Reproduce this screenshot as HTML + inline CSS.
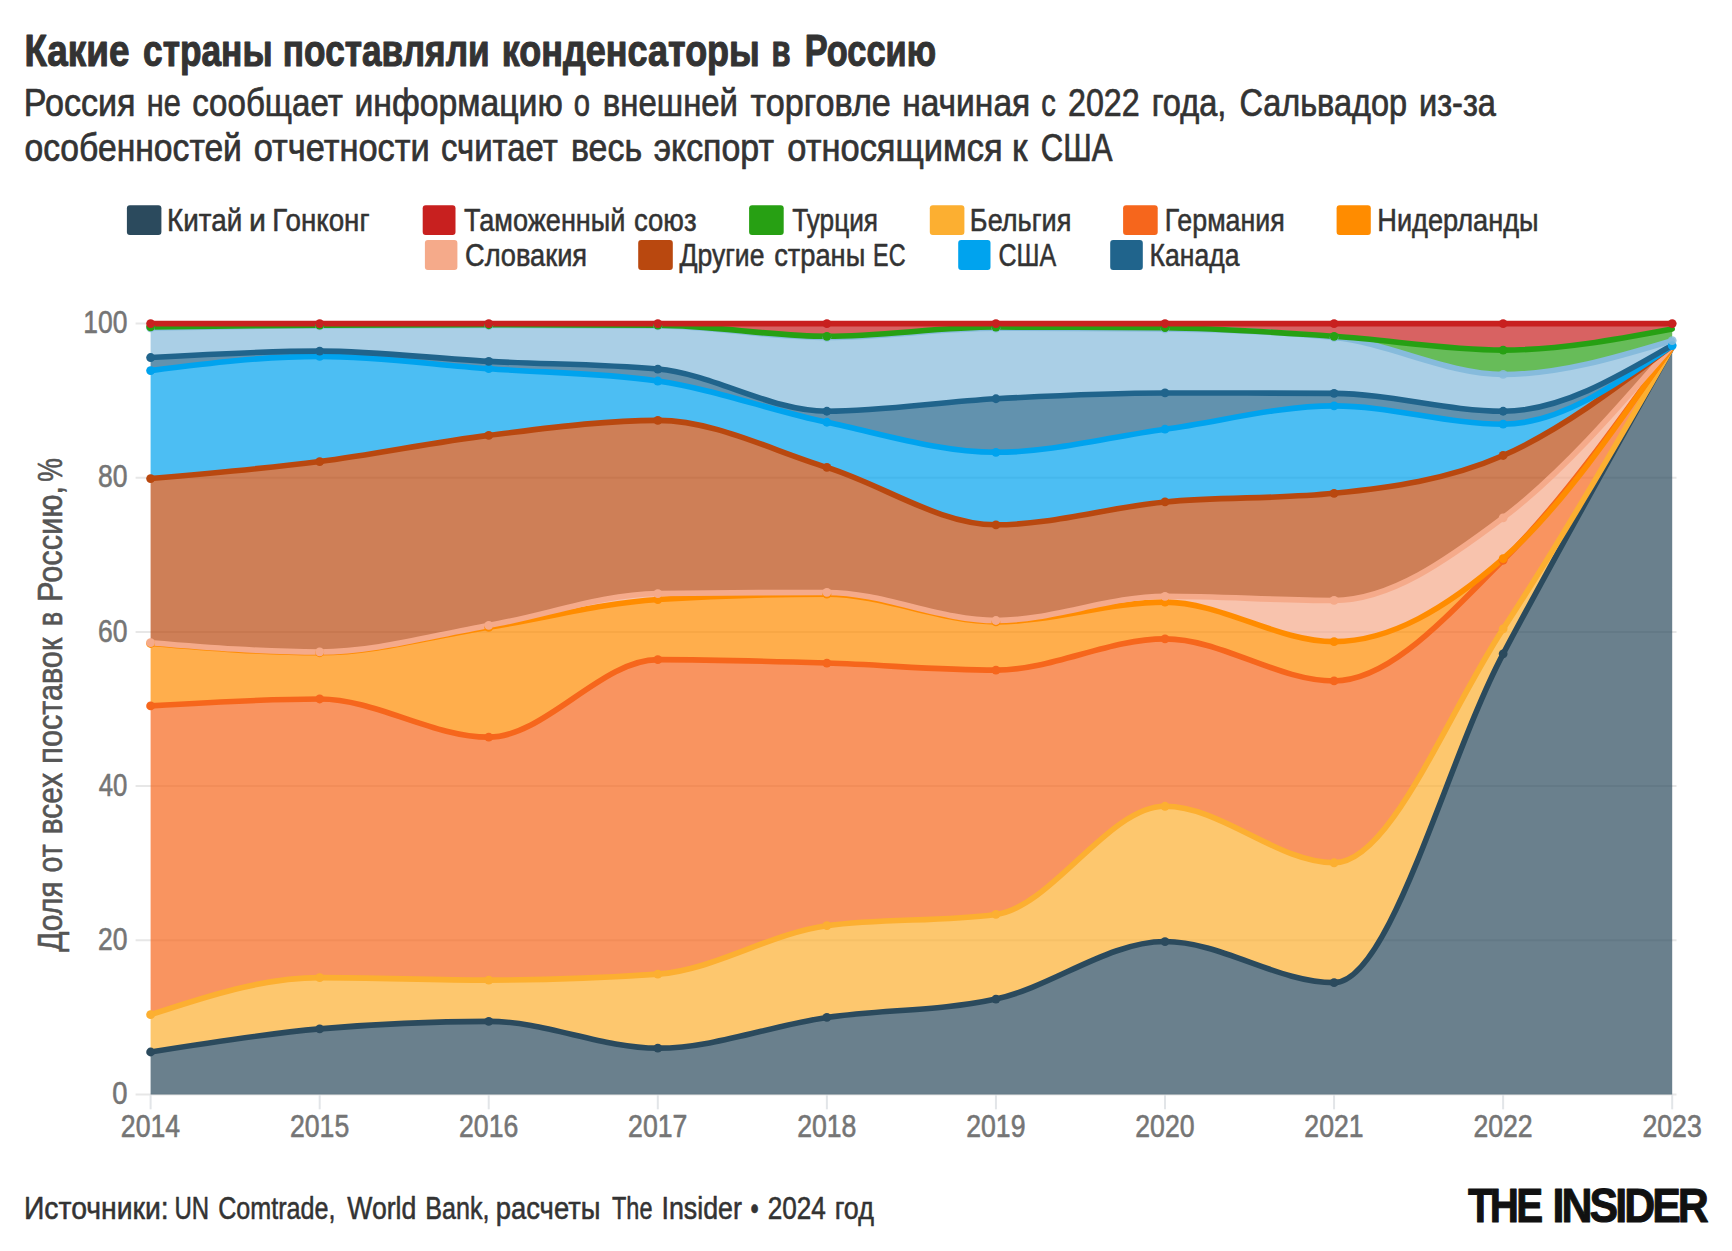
<!DOCTYPE html>
<html lang="ru"><head><meta charset="utf-8"><title>Какие страны поставляли конденсаторы в Россию</title>
<style>
html,body{margin:0;padding:0;background:#fff}
body{width:1732px;height:1251px;position:relative;overflow:hidden;font-family:"Liberation Sans",sans-serif}
svg text{font-family:"Liberation Sans",sans-serif;white-space:pre}
</style></head><body>
<svg width="1732" height="1251" viewBox="0 0 1732 1251" style="position:absolute;left:0;top:0">
<line x1="135.6" x2="1676.5" y1="1094.4" y2="1094.4" stroke="#e7e7e7" stroke-width="2"/>
<line x1="135.6" x2="1676.5" y1="940.24" y2="940.24" stroke="#e7e7e7" stroke-width="2"/>
<line x1="135.6" x2="1676.5" y1="786.08" y2="786.08" stroke="#e7e7e7" stroke-width="2"/>
<line x1="135.6" x2="1676.5" y1="631.92" y2="631.92" stroke="#e7e7e7" stroke-width="2"/>
<line x1="135.6" x2="1676.5" y1="477.76" y2="477.76" stroke="#e7e7e7" stroke-width="2"/>
<line x1="135.6" x2="1676.5" y1="323.6" y2="323.6" stroke="#e7e7e7" stroke-width="2"/>
<line x1="150.6" x2="150.6" y1="1094.4" y2="1109.3" stroke="#e2e5e8" stroke-width="2"/>
<line x1="319.67" x2="319.67" y1="1094.4" y2="1109.3" stroke="#e2e5e8" stroke-width="2"/>
<line x1="488.73" x2="488.73" y1="1094.4" y2="1109.3" stroke="#e2e5e8" stroke-width="2"/>
<line x1="657.8" x2="657.8" y1="1094.4" y2="1109.3" stroke="#e2e5e8" stroke-width="2"/>
<line x1="826.87" x2="826.87" y1="1094.4" y2="1109.3" stroke="#e2e5e8" stroke-width="2"/>
<line x1="995.93" x2="995.93" y1="1094.4" y2="1109.3" stroke="#e2e5e8" stroke-width="2"/>
<line x1="1165" x2="1165" y1="1094.4" y2="1109.3" stroke="#e2e5e8" stroke-width="2"/>
<line x1="1334.07" x2="1334.07" y1="1094.4" y2="1109.3" stroke="#e2e5e8" stroke-width="2"/>
<line x1="1503.13" x2="1503.13" y1="1094.4" y2="1109.3" stroke="#e2e5e8" stroke-width="2"/>
<line x1="1672.2" x2="1672.2" y1="1094.4" y2="1109.3" stroke="#e2e5e8" stroke-width="2"/>
<path d="M150.6,1052.01C206.96,1042.96,263.31,1033.92,319.67,1028.88C376.02,1023.85,432.38,1021.33,488.73,1021.33C545.09,1021.33,601.44,1048.15,657.8,1048.15C714.16,1048.15,770.51,1025.66,826.87,1017.47C883.22,1009.29,939.58,1011.33,995.93,999.05C1052.29,986.77,1108.64,941.55,1165,941.55C1221.36,941.55,1277.71,982.63,1334.07,982.63C1390.42,982.63,1446.78,759.67,1503.13,653.81C1559.49,547.95,1615.84,447.72,1672.2,347.49L1672.2,1094.4C1615.84,1094.4,1559.49,1094.4,1503.13,1094.4C1446.78,1094.4,1390.42,1094.4,1334.07,1094.4C1277.71,1094.4,1221.36,1094.4,1165,1094.4C1108.64,1094.4,1052.29,1094.4,995.93,1094.4C939.58,1094.4,883.22,1094.4,826.87,1094.4C770.51,1094.4,714.16,1094.4,657.8,1094.4C601.44,1094.4,545.09,1094.4,488.73,1094.4C432.38,1094.4,376.02,1094.4,319.67,1094.4C263.31,1094.4,206.96,1094.4,150.6,1094.4Z" fill="#2b4a5d" fill-opacity="0.7"/>
<path d="M150.6,1014.7C206.96,996.16,263.31,977.62,319.67,977.62C376.02,977.62,432.38,980.09,488.73,980.09C545.09,980.09,601.44,978.11,657.8,974.16C714.16,970.2,770.51,933.17,826.87,925.67C883.22,918.17,939.58,921.92,995.93,914.42C1052.29,906.92,1108.64,806.27,1165,806.27C1221.36,806.27,1277.71,862.77,1334.07,862.77C1390.42,862.77,1446.78,714.78,1503.13,628.84C1559.49,542.89,1615.84,445,1672.2,347.11L1672.2,347.49C1615.84,447.72,1559.49,547.95,1503.13,653.81C1446.78,759.67,1390.42,982.63,1334.07,982.63C1277.71,982.63,1221.36,941.55,1165,941.55C1108.64,941.55,1052.29,986.77,995.93,999.05C939.58,1011.33,883.22,1009.29,826.87,1017.47C770.51,1025.66,714.16,1048.15,657.8,1048.15C601.44,1048.15,545.09,1021.33,488.73,1021.33C432.38,1021.33,376.02,1023.85,319.67,1028.88C263.31,1033.92,206.96,1042.96,150.6,1052.01Z" fill="#fcaf31" fill-opacity="0.7"/>
<path d="M150.6,705.92C206.96,702.45,263.31,698.98,319.67,698.98C376.02,698.98,432.38,737.13,488.73,737.13C545.09,737.13,601.44,659.67,657.8,659.67C714.16,659.67,770.51,661.31,826.87,663.06C883.22,664.81,939.58,670.15,995.93,670.15C1052.29,670.15,1108.64,638.86,1165,638.86C1221.36,638.86,1277.71,680.94,1334.07,680.94C1390.42,680.94,1446.78,615.94,1503.13,560.24C1559.49,504.53,1615.84,425.63,1672.2,346.72L1672.2,347.11C1615.84,445,1559.49,542.89,1503.13,628.84C1446.78,714.78,1390.42,862.77,1334.07,862.77C1277.71,862.77,1221.36,806.27,1165,806.27C1108.64,806.27,1052.29,906.92,995.93,914.42C939.58,921.92,883.22,918.17,826.87,925.67C770.51,933.17,714.16,970.2,657.8,974.16C601.44,978.11,545.09,980.09,488.73,980.09C432.38,980.09,376.02,977.62,319.67,977.62C263.31,977.62,206.96,996.16,150.6,1014.7Z" fill="#f6661c" fill-opacity="0.7"/>
<path d="M150.6,643.48C206.96,648.11,263.31,652.73,319.67,652.73C376.02,652.73,432.38,636.16,488.73,627.3C545.09,618.43,601.44,603.14,657.8,599.55C714.16,595.95,770.51,594.15,826.87,594.15C883.22,594.15,939.58,621.9,995.93,621.9C1052.29,621.9,1108.64,602.17,1165,602.17C1221.36,602.17,1277.71,641.63,1334.07,641.63C1390.42,641.63,1446.78,607.91,1503.13,558.69C1559.49,509.48,1615.84,427.91,1672.2,346.34L1672.2,346.72C1615.84,425.63,1559.49,504.53,1503.13,560.24C1446.78,615.94,1390.42,680.94,1334.07,680.94C1277.71,680.94,1221.36,638.86,1165,638.86C1108.64,638.86,1052.29,670.15,995.93,670.15C939.58,670.15,883.22,664.81,826.87,663.06C770.51,661.31,714.16,659.67,657.8,659.67C601.44,659.67,545.09,737.13,488.73,737.13C432.38,737.13,376.02,698.98,319.67,698.98C263.31,698.98,206.96,702.45,150.6,705.92Z" fill="#ff8c00" fill-opacity="0.7"/>
<path d="M150.6,642.71C206.96,647.34,263.31,651.96,319.67,651.96C376.02,651.96,432.38,635.18,488.73,625.45C545.09,615.71,601.44,594.25,657.8,593.53C714.16,592.81,770.51,592.46,826.87,592.46C883.22,592.46,939.58,620.51,995.93,620.51C1052.29,620.51,1108.64,596.31,1165,596.31C1221.36,596.31,1277.71,600.47,1334.07,600.47C1390.42,600.47,1446.78,560.26,1503.13,517.84C1559.49,475.42,1615.84,410.69,1672.2,345.95L1672.2,346.34C1615.84,427.91,1559.49,509.48,1503.13,558.69C1446.78,607.91,1390.42,641.63,1334.07,641.63C1277.71,641.63,1221.36,602.17,1165,602.17C1108.64,602.17,1052.29,621.9,995.93,621.9C939.58,621.9,883.22,594.15,826.87,594.15C770.51,594.15,714.16,595.95,657.8,599.55C601.44,603.14,545.09,618.43,488.73,627.3C432.38,636.16,376.02,652.73,319.67,652.73C263.31,652.73,206.96,648.11,150.6,643.48Z" fill="#f5aa8a" fill-opacity="0.7"/>
<path d="M150.6,478.53C206.96,473.65,263.31,468.77,319.67,461.57C376.02,454.38,432.38,442.24,488.73,435.37C545.09,428.49,601.44,420.34,657.8,420.34C714.16,420.34,770.51,449.95,826.87,467.35C883.22,484.76,939.58,524.78,995.93,524.78C1052.29,524.78,1108.64,507.2,1165,501.96C1221.36,496.72,1277.71,499.09,1334.07,493.33C1390.42,487.57,1446.78,480.07,1503.13,455.48C1559.49,430.9,1615.84,388.35,1672.2,345.8L1672.2,345.95C1615.84,410.69,1559.49,475.42,1503.13,517.84C1446.78,560.26,1390.42,600.47,1334.07,600.47C1277.71,600.47,1221.36,596.31,1165,596.31C1108.64,596.31,1052.29,620.51,995.93,620.51C939.58,620.51,883.22,592.46,826.87,592.46C770.51,592.46,714.16,592.81,657.8,593.53C601.44,594.25,545.09,615.71,488.73,625.45C432.38,635.18,376.02,651.96,319.67,651.96C263.31,651.96,206.96,647.34,150.6,642.71Z" fill="#b9480f" fill-opacity="0.7"/>
<path d="M150.6,370.62C206.96,363.49,263.31,356.36,319.67,356.36C376.02,356.36,432.38,364.58,488.73,368.69C545.09,372.8,601.44,372.8,657.8,381.02C714.16,389.25,770.51,410.38,826.87,422.26C883.22,434.15,939.58,452.32,995.93,452.32C1052.29,452.32,1108.64,436.95,1165,429.2C1221.36,421.45,1277.71,405.84,1334.07,405.84C1390.42,405.84,1446.78,424.19,1503.13,424.19C1559.49,424.19,1615.84,384.88,1672.2,345.57L1672.2,345.8C1615.84,388.35,1559.49,430.9,1503.13,455.48C1446.78,480.07,1390.42,487.57,1334.07,493.33C1277.71,499.09,1221.36,496.72,1165,501.96C1108.64,507.2,1052.29,524.78,995.93,524.78C939.58,524.78,883.22,484.76,826.87,467.35C770.51,449.95,714.16,420.34,657.8,420.34C601.44,420.34,545.09,428.49,488.73,435.37C432.38,442.24,376.02,454.38,319.67,461.57C263.31,468.77,206.96,473.65,150.6,478.53Z" fill="#00a3ee" fill-opacity="0.7"/>
<path d="M150.6,357.52C206.96,354.32,263.31,351.12,319.67,351.12C376.02,351.12,432.38,358.38,488.73,361.37C545.09,364.36,601.44,363.94,657.8,369.08C714.16,374.22,770.51,411.24,826.87,411.24C883.22,411.24,939.58,401.8,995.93,398.75C1052.29,395.71,1108.64,392.97,1165,392.97C1221.36,392.97,1277.71,393.1,1334.07,393.36C1390.42,393.61,1446.78,411.24,1503.13,411.24C1559.49,411.24,1615.84,378.21,1672.2,345.18L1672.2,345.57C1615.84,384.88,1559.49,424.19,1503.13,424.19C1446.78,424.19,1390.42,405.84,1334.07,405.84C1277.71,405.84,1221.36,421.45,1165,429.2C1108.64,436.95,1052.29,452.32,995.93,452.32C939.58,452.32,883.22,434.15,826.87,422.26C770.51,410.38,714.16,389.25,657.8,381.02C601.44,372.8,545.09,372.8,488.73,368.69C432.38,364.58,376.02,356.36,319.67,356.36C263.31,356.36,206.96,363.49,150.6,370.62Z" fill="#20648c" fill-opacity="0.7"/>
<path d="M150.6,327.84C206.96,327,263.31,326.17,319.67,325.91C376.02,325.66,432.38,325.53,488.73,325.53C545.09,325.53,601.44,325.66,657.8,325.91C714.16,326.17,770.51,337.47,826.87,337.47C883.22,337.47,939.58,328.22,995.93,328.22C1052.29,328.22,1108.64,328.43,1165,328.84C1221.36,329.25,1277.71,331.72,1334.07,337.47C1390.42,343.23,1446.78,374.47,1503.13,374.47C1559.49,374.47,1615.84,357.52,1672.2,340.56L1672.2,345.18C1615.84,378.21,1559.49,411.24,1503.13,411.24C1446.78,411.24,1390.42,393.61,1334.07,393.36C1277.71,393.1,1221.36,392.97,1165,392.97C1108.64,392.97,1052.29,395.71,995.93,398.75C939.58,401.8,883.22,411.24,826.87,411.24C770.51,411.24,714.16,374.22,657.8,369.08C601.44,363.94,545.09,364.36,488.73,361.37C432.38,358.38,376.02,351.12,319.67,351.12C263.31,351.12,206.96,354.32,150.6,357.52Z" fill="#86bbdc" fill-opacity="0.7"/>
<path d="M150.6,326.84C206.96,326.12,263.31,325.4,319.67,325.14C376.02,324.88,432.38,324.76,488.73,324.76C545.09,324.76,601.44,324.88,657.8,325.14C714.16,325.4,770.51,336.32,826.87,336.32C883.22,336.32,939.58,327.07,995.93,327.07C1052.29,327.07,1108.64,327.27,1165,327.69C1221.36,328.1,1277.71,332.58,1334.07,336.32C1390.42,340.06,1446.78,350.12,1503.13,350.12C1559.49,350.12,1615.84,339.56,1672.2,329L1672.2,340.56C1615.84,357.52,1559.49,374.47,1503.13,374.47C1446.78,374.47,1390.42,343.23,1334.07,337.47C1277.71,331.72,1221.36,329.25,1165,328.84C1108.64,328.43,1052.29,328.22,995.93,328.22C939.58,328.22,883.22,337.47,826.87,337.47C770.51,337.47,714.16,326.17,657.8,325.91C601.44,325.66,545.09,325.53,488.73,325.53C432.38,325.53,376.02,325.66,319.67,325.91C263.31,326.17,206.96,327,150.6,327.84Z" fill="#27a013" fill-opacity="0.7"/>
<path d="M150.6,323.6C206.96,323.6,263.31,323.6,319.67,323.6C376.02,323.6,432.38,323.6,488.73,323.6C545.09,323.6,601.44,323.6,657.8,323.6C714.16,323.6,770.51,323.6,826.87,323.6C883.22,323.6,939.58,323.6,995.93,323.6C1052.29,323.6,1108.64,323.6,1165,323.6C1221.36,323.6,1277.71,323.6,1334.07,323.6C1390.42,323.6,1446.78,323.6,1503.13,323.6C1559.49,323.6,1615.84,323.6,1672.2,323.6L1672.2,329C1615.84,339.56,1559.49,350.12,1503.13,350.12C1446.78,350.12,1390.42,340.06,1334.07,336.32C1277.71,332.58,1221.36,328.1,1165,327.69C1108.64,327.27,1052.29,327.07,995.93,327.07C939.58,327.07,883.22,336.32,826.87,336.32C770.51,336.32,714.16,325.4,657.8,325.14C601.44,324.88,545.09,324.76,488.73,324.76C432.38,324.76,376.02,324.88,319.67,325.14C263.31,325.4,206.96,326.12,150.6,326.84Z" fill="#c8201f" fill-opacity="0.7"/>
<path d="M150.6,1052.01C206.96,1042.96,263.31,1033.92,319.67,1028.88C376.02,1023.85,432.38,1021.33,488.73,1021.33C545.09,1021.33,601.44,1048.15,657.8,1048.15C714.16,1048.15,770.51,1025.66,826.87,1017.47C883.22,1009.29,939.58,1011.33,995.93,999.05C1052.29,986.77,1108.64,941.55,1165,941.55C1221.36,941.55,1277.71,982.63,1334.07,982.63C1390.42,982.63,1446.78,759.67,1503.13,653.81C1559.49,547.95,1615.84,447.72,1672.2,347.49" fill="none" stroke="#2b4a5d" stroke-width="5.6" stroke-linejoin="round" stroke-linecap="round"/>
<path d="M150.6,1014.7C206.96,996.16,263.31,977.62,319.67,977.62C376.02,977.62,432.38,980.09,488.73,980.09C545.09,980.09,601.44,978.11,657.8,974.16C714.16,970.2,770.51,933.17,826.87,925.67C883.22,918.17,939.58,921.92,995.93,914.42C1052.29,906.92,1108.64,806.27,1165,806.27C1221.36,806.27,1277.71,862.77,1334.07,862.77C1390.42,862.77,1446.78,714.78,1503.13,628.84C1559.49,542.89,1615.84,445,1672.2,347.11" fill="none" stroke="#fcaf31" stroke-width="5.6" stroke-linejoin="round" stroke-linecap="round"/>
<path d="M150.6,705.92C206.96,702.45,263.31,698.98,319.67,698.98C376.02,698.98,432.38,737.13,488.73,737.13C545.09,737.13,601.44,659.67,657.8,659.67C714.16,659.67,770.51,661.31,826.87,663.06C883.22,664.81,939.58,670.15,995.93,670.15C1052.29,670.15,1108.64,638.86,1165,638.86C1221.36,638.86,1277.71,680.94,1334.07,680.94C1390.42,680.94,1446.78,615.94,1503.13,560.24C1559.49,504.53,1615.84,425.63,1672.2,346.72" fill="none" stroke="#f6661c" stroke-width="5.6" stroke-linejoin="round" stroke-linecap="round"/>
<path d="M150.6,643.48C206.96,648.11,263.31,652.73,319.67,652.73C376.02,652.73,432.38,636.16,488.73,627.3C545.09,618.43,601.44,603.14,657.8,599.55C714.16,595.95,770.51,594.15,826.87,594.15C883.22,594.15,939.58,621.9,995.93,621.9C1052.29,621.9,1108.64,602.17,1165,602.17C1221.36,602.17,1277.71,641.63,1334.07,641.63C1390.42,641.63,1446.78,607.91,1503.13,558.69C1559.49,509.48,1615.84,427.91,1672.2,346.34" fill="none" stroke="#ff8c00" stroke-width="5.6" stroke-linejoin="round" stroke-linecap="round"/>
<path d="M150.6,642.71C206.96,647.34,263.31,651.96,319.67,651.96C376.02,651.96,432.38,635.18,488.73,625.45C545.09,615.71,601.44,594.25,657.8,593.53C714.16,592.81,770.51,592.46,826.87,592.46C883.22,592.46,939.58,620.51,995.93,620.51C1052.29,620.51,1108.64,596.31,1165,596.31C1221.36,596.31,1277.71,600.47,1334.07,600.47C1390.42,600.47,1446.78,560.26,1503.13,517.84C1559.49,475.42,1615.84,410.69,1672.2,345.95" fill="none" stroke="#f5aa8a" stroke-width="5.6" stroke-linejoin="round" stroke-linecap="round"/>
<path d="M150.6,478.53C206.96,473.65,263.31,468.77,319.67,461.57C376.02,454.38,432.38,442.24,488.73,435.37C545.09,428.49,601.44,420.34,657.8,420.34C714.16,420.34,770.51,449.95,826.87,467.35C883.22,484.76,939.58,524.78,995.93,524.78C1052.29,524.78,1108.64,507.2,1165,501.96C1221.36,496.72,1277.71,499.09,1334.07,493.33C1390.42,487.57,1446.78,480.07,1503.13,455.48C1559.49,430.9,1615.84,388.35,1672.2,345.8" fill="none" stroke="#b9480f" stroke-width="5.6" stroke-linejoin="round" stroke-linecap="round"/>
<path d="M150.6,370.62C206.96,363.49,263.31,356.36,319.67,356.36C376.02,356.36,432.38,364.58,488.73,368.69C545.09,372.8,601.44,372.8,657.8,381.02C714.16,389.25,770.51,410.38,826.87,422.26C883.22,434.15,939.58,452.32,995.93,452.32C1052.29,452.32,1108.64,436.95,1165,429.2C1221.36,421.45,1277.71,405.84,1334.07,405.84C1390.42,405.84,1446.78,424.19,1503.13,424.19C1559.49,424.19,1615.84,384.88,1672.2,345.57" fill="none" stroke="#00a3ee" stroke-width="5.6" stroke-linejoin="round" stroke-linecap="round"/>
<path d="M150.6,357.52C206.96,354.32,263.31,351.12,319.67,351.12C376.02,351.12,432.38,358.38,488.73,361.37C545.09,364.36,601.44,363.94,657.8,369.08C714.16,374.22,770.51,411.24,826.87,411.24C883.22,411.24,939.58,401.8,995.93,398.75C1052.29,395.71,1108.64,392.97,1165,392.97C1221.36,392.97,1277.71,393.1,1334.07,393.36C1390.42,393.61,1446.78,411.24,1503.13,411.24C1559.49,411.24,1615.84,378.21,1672.2,345.18" fill="none" stroke="#20648c" stroke-width="5.6" stroke-linejoin="round" stroke-linecap="round"/>
<path d="M150.6,327.84C206.96,327,263.31,326.17,319.67,325.91C376.02,325.66,432.38,325.53,488.73,325.53C545.09,325.53,601.44,325.66,657.8,325.91C714.16,326.17,770.51,337.47,826.87,337.47C883.22,337.47,939.58,328.22,995.93,328.22C1052.29,328.22,1108.64,328.43,1165,328.84C1221.36,329.25,1277.71,331.72,1334.07,337.47C1390.42,343.23,1446.78,374.47,1503.13,374.47C1559.49,374.47,1615.84,357.52,1672.2,340.56" fill="none" stroke="#86bbdc" stroke-width="5.6" stroke-linejoin="round" stroke-linecap="round"/>
<path d="M150.6,326.84C206.96,326.12,263.31,325.4,319.67,325.14C376.02,324.88,432.38,324.76,488.73,324.76C545.09,324.76,601.44,324.88,657.8,325.14C714.16,325.4,770.51,336.32,826.87,336.32C883.22,336.32,939.58,327.07,995.93,327.07C1052.29,327.07,1108.64,327.27,1165,327.69C1221.36,328.1,1277.71,332.58,1334.07,336.32C1390.42,340.06,1446.78,350.12,1503.13,350.12C1559.49,350.12,1615.84,339.56,1672.2,329" fill="none" stroke="#27a013" stroke-width="5.6" stroke-linejoin="round" stroke-linecap="round"/>
<path d="M150.6,323.6C206.96,323.6,263.31,323.6,319.67,323.6C376.02,323.6,432.38,323.6,488.73,323.6C545.09,323.6,601.44,323.6,657.8,323.6C714.16,323.6,770.51,323.6,826.87,323.6C883.22,323.6,939.58,323.6,995.93,323.6C1052.29,323.6,1108.64,323.6,1165,323.6C1221.36,323.6,1277.71,323.6,1334.07,323.6C1390.42,323.6,1446.78,323.6,1503.13,323.6C1559.49,323.6,1615.84,323.6,1672.2,323.6" fill="none" stroke="#c8201f" stroke-width="5.6" stroke-linejoin="round" stroke-linecap="round"/>
<g fill="#2b4a5d"><circle cx="150.6" cy="1052.01" r="4.4"/><circle cx="319.67" cy="1028.88" r="4.4"/><circle cx="488.73" cy="1021.33" r="4.4"/><circle cx="657.8" cy="1048.15" r="4.4"/><circle cx="826.87" cy="1017.47" r="4.4"/><circle cx="995.93" cy="999.05" r="4.4"/><circle cx="1165" cy="941.55" r="4.4"/><circle cx="1334.07" cy="982.63" r="4.4"/><circle cx="1503.13" cy="653.81" r="4.4"/></g>
<g fill="#fcaf31"><circle cx="150.6" cy="1014.7" r="4.4"/><circle cx="319.67" cy="977.62" r="4.4"/><circle cx="488.73" cy="980.09" r="4.4"/><circle cx="657.8" cy="974.16" r="4.4"/><circle cx="826.87" cy="925.67" r="4.4"/><circle cx="995.93" cy="914.42" r="4.4"/><circle cx="1165" cy="806.27" r="4.4"/><circle cx="1334.07" cy="862.77" r="4.4"/><circle cx="1503.13" cy="628.84" r="4.4"/></g>
<g fill="#f6661c"><circle cx="150.6" cy="705.92" r="4.4"/><circle cx="319.67" cy="698.98" r="4.4"/><circle cx="488.73" cy="737.13" r="4.4"/><circle cx="657.8" cy="659.67" r="4.4"/><circle cx="826.87" cy="663.06" r="4.4"/><circle cx="995.93" cy="670.15" r="4.4"/><circle cx="1165" cy="638.86" r="4.4"/><circle cx="1334.07" cy="680.94" r="4.4"/><circle cx="1503.13" cy="560.24" r="4.4"/></g>
<g fill="#ff8c00"><circle cx="150.6" cy="643.48" r="4.4"/><circle cx="319.67" cy="652.73" r="4.4"/><circle cx="488.73" cy="627.3" r="4.4"/><circle cx="657.8" cy="599.55" r="4.4"/><circle cx="826.87" cy="594.15" r="4.4"/><circle cx="995.93" cy="621.9" r="4.4"/><circle cx="1165" cy="602.17" r="4.4"/><circle cx="1334.07" cy="641.63" r="4.4"/><circle cx="1503.13" cy="558.69" r="4.4"/></g>
<g fill="#f5aa8a"><circle cx="150.6" cy="642.71" r="4.4"/><circle cx="319.67" cy="651.96" r="4.4"/><circle cx="488.73" cy="625.45" r="4.4"/><circle cx="657.8" cy="593.53" r="4.4"/><circle cx="826.87" cy="592.46" r="4.4"/><circle cx="995.93" cy="620.51" r="4.4"/><circle cx="1165" cy="596.31" r="4.4"/><circle cx="1334.07" cy="600.47" r="4.4"/><circle cx="1503.13" cy="517.84" r="4.4"/></g>
<g fill="#b9480f"><circle cx="150.6" cy="478.53" r="4.4"/><circle cx="319.67" cy="461.57" r="4.4"/><circle cx="488.73" cy="435.37" r="4.4"/><circle cx="657.8" cy="420.34" r="4.4"/><circle cx="826.87" cy="467.35" r="4.4"/><circle cx="995.93" cy="524.78" r="4.4"/><circle cx="1165" cy="501.96" r="4.4"/><circle cx="1334.07" cy="493.33" r="4.4"/><circle cx="1503.13" cy="455.48" r="4.4"/></g>
<g fill="#00a3ee"><circle cx="150.6" cy="370.62" r="4.4"/><circle cx="319.67" cy="356.36" r="4.4"/><circle cx="488.73" cy="368.69" r="4.4"/><circle cx="657.8" cy="381.02" r="4.4"/><circle cx="826.87" cy="422.26" r="4.4"/><circle cx="995.93" cy="452.32" r="4.4"/><circle cx="1165" cy="429.2" r="4.4"/><circle cx="1334.07" cy="405.84" r="4.4"/><circle cx="1503.13" cy="424.19" r="4.4"/><circle cx="1672.2" cy="345.57" r="4.4"/></g>
<g fill="#20648c"><circle cx="150.6" cy="357.52" r="4.4"/><circle cx="319.67" cy="351.12" r="4.4"/><circle cx="488.73" cy="361.37" r="4.4"/><circle cx="657.8" cy="369.08" r="4.4"/><circle cx="826.87" cy="411.24" r="4.4"/><circle cx="995.93" cy="398.75" r="4.4"/><circle cx="1165" cy="392.97" r="4.4"/><circle cx="1334.07" cy="393.36" r="4.4"/><circle cx="1503.13" cy="411.24" r="4.4"/></g>
<g fill="#86bbdc" fill-opacity="0.85"><circle cx="150.6" cy="327.84" r="4.4"/><circle cx="319.67" cy="325.91" r="4.4"/><circle cx="488.73" cy="325.53" r="4.4"/><circle cx="657.8" cy="325.91" r="4.4"/><circle cx="826.87" cy="337.47" r="4.4"/><circle cx="995.93" cy="328.22" r="4.4"/><circle cx="1165" cy="328.84" r="4.4"/><circle cx="1334.07" cy="337.47" r="4.4"/><circle cx="1503.13" cy="374.47" r="4.4"/><circle cx="1672.2" cy="340.56" r="4.4"/></g>
<g fill="#27a013"><circle cx="150.6" cy="326.84" r="4.4"/><circle cx="319.67" cy="325.14" r="4.4"/><circle cx="488.73" cy="324.76" r="4.4"/><circle cx="657.8" cy="325.14" r="4.4"/><circle cx="826.87" cy="336.32" r="4.4"/><circle cx="995.93" cy="327.07" r="4.4"/><circle cx="1165" cy="327.69" r="4.4"/><circle cx="1334.07" cy="336.32" r="4.4"/><circle cx="1503.13" cy="350.12" r="4.4"/></g>
<g fill="#c8201f"><circle cx="150.6" cy="323.6" r="4.4"/><circle cx="319.67" cy="323.6" r="4.4"/><circle cx="488.73" cy="323.6" r="4.4"/><circle cx="657.8" cy="323.6" r="4.4"/><circle cx="826.87" cy="323.6" r="4.4"/><circle cx="995.93" cy="323.6" r="4.4"/><circle cx="1165" cy="323.6" r="4.4"/><circle cx="1334.07" cy="323.6" r="4.4"/><circle cx="1503.13" cy="323.6" r="4.4"/><circle cx="1672.2" cy="323.6" r="4.4"/></g>
<rect x="126.9" y="205.2" width="34.5" height="29.9" rx="3" fill="#2b4a5d"/>
<rect x="422.7" y="205.2" width="32.8" height="29.9" rx="3" fill="#c8201f"/>
<rect x="749.1" y="205.2" width="34.6" height="29.9" rx="3" fill="#27a013"/>
<rect x="929.8" y="205.2" width="34.6" height="29.9" rx="3" fill="#fcaf31"/>
<rect x="1123.1" y="205.2" width="34.6" height="29.9" rx="3" fill="#f6661c"/>
<rect x="1336.6" y="205.2" width="34.2" height="29.9" rx="3" fill="#ff8c00"/>
<rect x="424.9" y="240" width="32.5" height="29.9" rx="3" fill="#f5aa8a"/>
<rect x="638.2" y="240" width="34.6" height="29.9" rx="3" fill="#b9480f"/>
<rect x="958.2" y="240" width="32.3" height="29.9" rx="3" fill="#00a3ee"/>
<rect x="1110.2" y="240" width="32.6" height="29.9" rx="3" fill="#20648c"/>
<text x="24.39" y="65.6" font-size="44.4" fill="#333" font-weight="bold" stroke="#333" stroke-width="1.1" stroke-linejoin="round" textLength="105.13" lengthAdjust="spacingAndGlyphs">Какие</text>
<text x="143.06" y="65.6" font-size="44.4" fill="#333" font-weight="bold" stroke="#333" stroke-width="1.1" stroke-linejoin="round" textLength="129.51" lengthAdjust="spacingAndGlyphs">страны</text>
<text x="282.87" y="65.6" font-size="44.4" fill="#333" font-weight="bold" stroke="#333" stroke-width="1.1" stroke-linejoin="round" textLength="206.79" lengthAdjust="spacingAndGlyphs">поставляли</text>
<text x="501.72" y="65.6" font-size="44.4" fill="#333" font-weight="bold" stroke="#333" stroke-width="1.1" stroke-linejoin="round" textLength="258.09" lengthAdjust="spacingAndGlyphs">конденсаторы</text>
<text x="771.41" y="65.6" font-size="44.4" fill="#333" font-weight="bold" stroke="#333" stroke-width="1.1" stroke-linejoin="round" textLength="19.09" lengthAdjust="spacingAndGlyphs">в</text>
<text x="804.7" y="65.6" font-size="44.4" fill="#333" font-weight="bold" stroke="#333" stroke-width="1.1" stroke-linejoin="round" textLength="131.35" lengthAdjust="spacingAndGlyphs">Россию</text>
<text x="23.76" y="115.8" font-size="38" fill="#333" stroke="#333" stroke-width="0.7" stroke-linejoin="round" textLength="111.8" lengthAdjust="spacingAndGlyphs">Россия</text>
<text x="146.73" y="115.8" font-size="38" fill="#333" stroke="#333" stroke-width="0.7" stroke-linejoin="round" textLength="34.03" lengthAdjust="spacingAndGlyphs">не</text>
<text x="192.18" y="115.8" font-size="38" fill="#333" stroke="#333" stroke-width="0.7" stroke-linejoin="round" textLength="150.72" lengthAdjust="spacingAndGlyphs">сообщает</text>
<text x="354.47" y="115.8" font-size="38" fill="#333" stroke="#333" stroke-width="0.7" stroke-linejoin="round" textLength="208.31" lengthAdjust="spacingAndGlyphs">информацию</text>
<text x="573.78" y="115.8" font-size="38" fill="#333" stroke="#333" stroke-width="0.7" stroke-linejoin="round" textLength="16.24" lengthAdjust="spacingAndGlyphs">о</text>
<text x="602.82" y="115.8" font-size="38" fill="#333" stroke="#333" stroke-width="0.7" stroke-linejoin="round" textLength="135.16" lengthAdjust="spacingAndGlyphs">внешней</text>
<text x="750.55" y="115.8" font-size="38" fill="#333" stroke="#333" stroke-width="0.7" stroke-linejoin="round" textLength="140.32" lengthAdjust="spacingAndGlyphs">торговле</text>
<text x="902.18" y="115.8" font-size="38" fill="#333" stroke="#333" stroke-width="0.7" stroke-linejoin="round" textLength="128.04" lengthAdjust="spacingAndGlyphs">начиная</text>
<text x="1041.14" y="115.8" font-size="38" fill="#333" stroke="#333" stroke-width="0.7" stroke-linejoin="round" textLength="14.51" lengthAdjust="spacingAndGlyphs">с</text>
<text x="1068" y="115.8" font-size="38" fill="#333" stroke="#333" stroke-width="0.7" stroke-linejoin="round" textLength="71.71" lengthAdjust="spacingAndGlyphs">2022</text>
<text x="1151.64" y="115.8" font-size="38" fill="#333" stroke="#333" stroke-width="0.7" stroke-linejoin="round" textLength="74.71" lengthAdjust="spacingAndGlyphs">года,</text>
<text x="1239.4" y="115.8" font-size="38" fill="#333" stroke="#333" stroke-width="0.7" stroke-linejoin="round" textLength="167.72" lengthAdjust="spacingAndGlyphs">Сальвадор</text>
<text x="1418.93" y="115.8" font-size="38" fill="#333" stroke="#333" stroke-width="0.7" stroke-linejoin="round" textLength="77.07" lengthAdjust="spacingAndGlyphs">из-за</text>
<text x="24.46" y="160.8" font-size="38" fill="#333" stroke="#333" stroke-width="0.7" stroke-linejoin="round" textLength="217.46" lengthAdjust="spacingAndGlyphs">особенностей</text>
<text x="253.65" y="160.8" font-size="38" fill="#333" stroke="#333" stroke-width="0.7" stroke-linejoin="round" textLength="176.02" lengthAdjust="spacingAndGlyphs">отчетности</text>
<text x="440.99" y="160.8" font-size="38" fill="#333" stroke="#333" stroke-width="0.7" stroke-linejoin="round" textLength="116.71" lengthAdjust="spacingAndGlyphs">считает</text>
<text x="570.97" y="160.8" font-size="38" fill="#333" stroke="#333" stroke-width="0.7" stroke-linejoin="round" textLength="71.1" lengthAdjust="spacingAndGlyphs">весь</text>
<text x="653.66" y="160.8" font-size="38" fill="#333" stroke="#333" stroke-width="0.7" stroke-linejoin="round" textLength="120.25" lengthAdjust="spacingAndGlyphs">экспорт</text>
<text x="787.34" y="160.8" font-size="38" fill="#333" stroke="#333" stroke-width="0.7" stroke-linejoin="round" textLength="215.24" lengthAdjust="spacingAndGlyphs">относящимся</text>
<text x="1012.08" y="160.8" font-size="38" fill="#333" stroke="#333" stroke-width="0.7" stroke-linejoin="round" textLength="15.52" lengthAdjust="spacingAndGlyphs">к</text>
<text x="1040.83" y="160.8" font-size="38" fill="#333" stroke="#333" stroke-width="0.7" stroke-linejoin="round" textLength="71.68" lengthAdjust="spacingAndGlyphs">США</text>
<text x="167.01" y="230.6" font-size="31.5" fill="#333" stroke="#333" stroke-width="0.55" stroke-linejoin="round" textLength="75.23" lengthAdjust="spacingAndGlyphs">Китай</text>
<text x="248.97" y="230.6" font-size="31.5" fill="#333" stroke="#333" stroke-width="0.55" stroke-linejoin="round" textLength="16.98" lengthAdjust="spacingAndGlyphs">и</text>
<text x="272.31" y="230.6" font-size="31.5" fill="#333" stroke="#333" stroke-width="0.55" stroke-linejoin="round" textLength="97.24" lengthAdjust="spacingAndGlyphs">Гонконг</text>
<text x="463.97" y="230.6" font-size="31.5" fill="#333" stroke="#333" stroke-width="0.55" stroke-linejoin="round" textLength="161.42" lengthAdjust="spacingAndGlyphs">Таможенный</text>
<text x="634" y="230.6" font-size="31.5" fill="#333" stroke="#333" stroke-width="0.55" stroke-linejoin="round" textLength="62.51" lengthAdjust="spacingAndGlyphs">союз</text>
<text x="792.27" y="230.6" font-size="31.5" fill="#333" stroke="#333" stroke-width="0.55" stroke-linejoin="round" textLength="85.76" lengthAdjust="spacingAndGlyphs">Турция</text>
<text x="969.86" y="230.6" font-size="31.5" fill="#333" stroke="#333" stroke-width="0.55" stroke-linejoin="round" textLength="101.54" lengthAdjust="spacingAndGlyphs">Бельгия</text>
<text x="1164.67" y="230.6" font-size="31.5" fill="#333" stroke="#333" stroke-width="0.55" stroke-linejoin="round" textLength="120.1" lengthAdjust="spacingAndGlyphs">Германия</text>
<text x="1377.25" y="230.6" font-size="31.5" fill="#333" stroke="#333" stroke-width="0.55" stroke-linejoin="round" textLength="161.39" lengthAdjust="spacingAndGlyphs">Нидерланды</text>
<text x="465.01" y="265.9" font-size="31.5" fill="#333" stroke="#333" stroke-width="0.55" stroke-linejoin="round" textLength="122.09" lengthAdjust="spacingAndGlyphs">Словакия</text>
<text x="679.48" y="265.9" font-size="31.5" fill="#333" stroke="#333" stroke-width="0.55" stroke-linejoin="round" textLength="84.99" lengthAdjust="spacingAndGlyphs">Другие</text>
<text x="774.21" y="265.9" font-size="31.5" fill="#333" stroke="#333" stroke-width="0.55" stroke-linejoin="round" textLength="91.03" lengthAdjust="spacingAndGlyphs">страны</text>
<text x="873.06" y="265.9" font-size="31.5" fill="#333" stroke="#333" stroke-width="0.55" stroke-linejoin="round" textLength="32.46" lengthAdjust="spacingAndGlyphs">ЕС</text>
<text x="998.48" y="265.9" font-size="31.5" fill="#333" stroke="#333" stroke-width="0.55" stroke-linejoin="round" textLength="57.85" lengthAdjust="spacingAndGlyphs">США</text>
<text x="1149.49" y="265.9" font-size="31.5" fill="#333" stroke="#333" stroke-width="0.55" stroke-linejoin="round" textLength="89.93" lengthAdjust="spacingAndGlyphs">Канада</text>
<text x="23.95" y="1219.2" font-size="31" fill="#333" stroke="#333" stroke-width="0.55" stroke-linejoin="round" textLength="144.77" lengthAdjust="spacingAndGlyphs">Источники:</text>
<text x="174.53" y="1219.2" font-size="31" fill="#333" stroke="#333" stroke-width="0.55" stroke-linejoin="round" textLength="34.64" lengthAdjust="spacingAndGlyphs">UN</text>
<text x="218.16" y="1219.2" font-size="31" fill="#333" stroke="#333" stroke-width="0.55" stroke-linejoin="round" textLength="117.38" lengthAdjust="spacingAndGlyphs">Comtrade,</text>
<text x="347.27" y="1219.2" font-size="31" fill="#333" stroke="#333" stroke-width="0.55" stroke-linejoin="round" textLength="69.02" lengthAdjust="spacingAndGlyphs">World</text>
<text x="425.26" y="1219.2" font-size="31" fill="#333" stroke="#333" stroke-width="0.55" stroke-linejoin="round" textLength="64.18" lengthAdjust="spacingAndGlyphs">Bank,</text>
<text x="495.7" y="1219.2" font-size="31" fill="#333" stroke="#333" stroke-width="0.55" stroke-linejoin="round" textLength="104.85" lengthAdjust="spacingAndGlyphs">расчеты</text>
<text x="611.98" y="1219.2" font-size="31" fill="#333" stroke="#333" stroke-width="0.55" stroke-linejoin="round" textLength="40.49" lengthAdjust="spacingAndGlyphs">The</text>
<text x="661.45" y="1219.2" font-size="31" fill="#333" stroke="#333" stroke-width="0.55" stroke-linejoin="round" textLength="80.46" lengthAdjust="spacingAndGlyphs">Insider</text>
<text x="750.54" y="1219.2" font-size="31" fill="#333" stroke="#333" stroke-width="0.55" stroke-linejoin="round" textLength="8.2" lengthAdjust="spacingAndGlyphs">•</text>
<text x="767.63" y="1219.2" font-size="31" fill="#333" stroke="#333" stroke-width="0.55" stroke-linejoin="round" textLength="58.2" lengthAdjust="spacingAndGlyphs">2024</text>
<text x="834.64" y="1219.2" font-size="31" fill="#333" stroke="#333" stroke-width="0.55" stroke-linejoin="round" textLength="39.26" lengthAdjust="spacingAndGlyphs">год</text>
<text x="120.87" y="1136.8" font-size="32" fill="#757575" stroke="#757575" stroke-width="0.6" stroke-linejoin="round" textLength="59.3" lengthAdjust="spacingAndGlyphs">2014</text>
<text x="289.93" y="1136.8" font-size="32" fill="#757575" stroke="#757575" stroke-width="0.6" stroke-linejoin="round" textLength="59.3" lengthAdjust="spacingAndGlyphs">2015</text>
<text x="459" y="1136.8" font-size="32" fill="#757575" stroke="#757575" stroke-width="0.6" stroke-linejoin="round" textLength="59.3" lengthAdjust="spacingAndGlyphs">2016</text>
<text x="628.07" y="1136.8" font-size="32" fill="#757575" stroke="#757575" stroke-width="0.6" stroke-linejoin="round" textLength="59.3" lengthAdjust="spacingAndGlyphs">2017</text>
<text x="797.13" y="1136.8" font-size="32" fill="#757575" stroke="#757575" stroke-width="0.6" stroke-linejoin="round" textLength="59.3" lengthAdjust="spacingAndGlyphs">2018</text>
<text x="966.2" y="1136.8" font-size="32" fill="#757575" stroke="#757575" stroke-width="0.6" stroke-linejoin="round" textLength="59.3" lengthAdjust="spacingAndGlyphs">2019</text>
<text x="1135.27" y="1136.8" font-size="32" fill="#757575" stroke="#757575" stroke-width="0.6" stroke-linejoin="round" textLength="59.3" lengthAdjust="spacingAndGlyphs">2020</text>
<text x="1304.33" y="1136.8" font-size="32" fill="#757575" stroke="#757575" stroke-width="0.6" stroke-linejoin="round" textLength="59.3" lengthAdjust="spacingAndGlyphs">2021</text>
<text x="1473.4" y="1136.8" font-size="32" fill="#757575" stroke="#757575" stroke-width="0.6" stroke-linejoin="round" textLength="59.3" lengthAdjust="spacingAndGlyphs">2022</text>
<text x="1642.47" y="1136.8" font-size="32" fill="#757575" stroke="#757575" stroke-width="0.6" stroke-linejoin="round" textLength="59.3" lengthAdjust="spacingAndGlyphs">2023</text>
<text x="112.24" y="1104" font-size="32" fill="#757575" stroke="#757575" stroke-width="0.6" stroke-linejoin="round" textLength="15.24" lengthAdjust="spacingAndGlyphs">0</text>
<text x="97.97" y="949.84" font-size="32" fill="#757575" stroke="#757575" stroke-width="0.6" stroke-linejoin="round" textLength="29.49" lengthAdjust="spacingAndGlyphs">20</text>
<text x="98.8" y="795.68" font-size="32" fill="#757575" stroke="#757575" stroke-width="0.6" stroke-linejoin="round" textLength="28.64" lengthAdjust="spacingAndGlyphs">40</text>
<text x="97.97" y="641.52" font-size="32" fill="#757575" stroke="#757575" stroke-width="0.6" stroke-linejoin="round" textLength="29.49" lengthAdjust="spacingAndGlyphs">60</text>
<text x="97.97" y="487.36" font-size="32" fill="#757575" stroke="#757575" stroke-width="0.6" stroke-linejoin="round" textLength="29.49" lengthAdjust="spacingAndGlyphs">80</text>
<text x="83.35" y="333.2" font-size="32" fill="#757575" stroke="#757575" stroke-width="0.6" stroke-linejoin="round" textLength="44.11" lengthAdjust="spacingAndGlyphs">100</text>
<text x="1467.9" y="1221.6" font-size="49" fill="#111" font-weight="bold" letter-spacing="-3.4" stroke="#111" stroke-width="1" stroke-linejoin="round" textLength="72.38" lengthAdjust="spacingAndGlyphs">THE</text>
<text x="1552.57" y="1221.6" font-size="49" fill="#111" font-weight="bold" letter-spacing="-3.4" stroke="#111" stroke-width="1" stroke-linejoin="round" textLength="153.29" lengthAdjust="spacingAndGlyphs">INSIDER</text>
<g transform="translate(62.3,952.1) rotate(-90)">
<text x="0.3" y="0" font-size="35" fill="#555" stroke="#555" stroke-width="0.6" stroke-linejoin="round" textLength="70.27" lengthAdjust="spacingAndGlyphs">Доля</text>
<text x="79.59" y="0" font-size="35" fill="#555" stroke="#555" stroke-width="0.6" stroke-linejoin="round" textLength="28.24" lengthAdjust="spacingAndGlyphs">от</text>
<text x="117.89" y="0" font-size="35" fill="#555" stroke="#555" stroke-width="0.6" stroke-linejoin="round" textLength="61.48" lengthAdjust="spacingAndGlyphs">всех</text>
<text x="188.45" y="0" font-size="35" fill="#555" stroke="#555" stroke-width="0.6" stroke-linejoin="round" textLength="125.95" lengthAdjust="spacingAndGlyphs">поставок</text>
<text x="326.08" y="0" font-size="35" fill="#555" stroke="#555" stroke-width="0.6" stroke-linejoin="round" textLength="14.18" lengthAdjust="spacingAndGlyphs">в</text>
<text x="350.14" y="0" font-size="35" fill="#555" stroke="#555" stroke-width="0.6" stroke-linejoin="round" textLength="116.06" lengthAdjust="spacingAndGlyphs">Россию,</text>
<text x="470.3" y="0" font-size="35" fill="#555" stroke="#555" stroke-width="0.6" stroke-linejoin="round" textLength="23.69" lengthAdjust="spacingAndGlyphs">%</text>
</g>
</svg>
</body></html>
